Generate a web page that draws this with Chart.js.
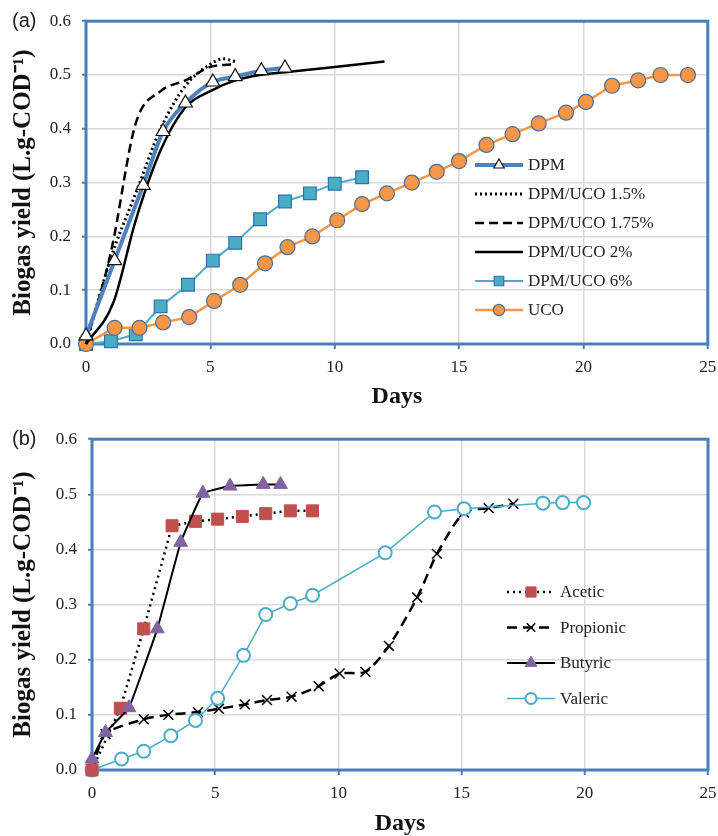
<!DOCTYPE html>
<html>
<head>
<meta charset="utf-8">
<style>
  body { margin: 0; background: #fff; }
  .panel { position: absolute; left: 0; width: 718px; height: 418px; }
</style>
</head>
<body>
<div class="panel" style="top:0"><canvas id="chartA" width="718" height="418"></canvas></div>
<div class="panel" style="top:418px"><canvas id="chartB" width="718" height="418"></canvas></div>

<script src="https://cdn.jsdelivr.net/npm/chart.js"></script>
<script>
// ---- panel (a) data: biogas yield vs days ----
let dpmDays = [0, 1.15, 2.3, 3.1, 4.0, 5.1, 6.0, 7.05, 8.0];
let dpmYield = [0.015, 0.155, 0.295, 0.395, 0.448, 0.487, 0.497, 0.508, 0.513];

let uco15Days = [0, 1, 2, 3, 4, 5, 5.5, 6];
let uco15Yield = [0, 0.16, 0.28, 0.40, 0.48, 0.52, 0.53, 0.525];

let uco175Days = [0, 1, 2, 3, 4, 5, 6];
let uco175Yield = [0, 0.17, 0.41, 0.47, 0.49, 0.515, 0.52];

let uco2Days = [0, 1.1, 2, 3, 4, 5, 6, 7, 8, 10, 12];
let uco2Yield = [0, 0.077, 0.23, 0.36, 0.44, 0.47, 0.49, 0.50, 0.505, 0.515, 0.525];

let uco6Days = [0, 1, 2, 3, 4.1, 5.1, 6, 7, 8, 9, 10, 11.1];
let uco6Yield = [0, 0.005, 0.018, 0.07, 0.11, 0.155, 0.188, 0.232, 0.265, 0.28, 0.298, 0.31];

let ucoDays = [0, 1.15, 2.15, 3.1, 4.15, 5.15, 6.2, 7.2, 8.1, 9.1, 10.1, 11.1, 12.1, 13.1, 14.1, 15, 16.1, 17.15, 18.2, 19.3, 20.1, 21.15, 22.2, 23.1, 24.2];
let ucoYield = [0, 0.03, 0.03, 0.04, 0.05, 0.08, 0.11, 0.15, 0.18, 0.20, 0.23, 0.26, 0.28, 0.30, 0.32, 0.34, 0.37, 0.39, 0.41, 0.43, 0.45, 0.48, 0.49, 0.50, 0.50];

// ---- panel (b) data ----
let aceticDays = [0, 1.15, 2.1, 3.25, 4.2, 5.1, 6.1, 7.05, 8.05, 8.95];
let aceticYield = [0, 0.112, 0.256, 0.443, 0.451, 0.455, 0.46, 0.465, 0.47, 0.47];

let propionicDays = [0, 0.55, 2.1, 3.1, 4.3, 5.15, 6.2, 7.1, 8.1, 9.2, 10.05, 11.1, 12.05, 13.2, 14.0, 15.1, 16.1, 17.1];
let propionicYield = [0, 0.065, 0.092, 0.1, 0.105, 0.111, 0.119, 0.127, 0.133, 0.152, 0.175, 0.178, 0.225, 0.313, 0.392, 0.467, 0.475, 0.483];

let butyricDays = [0, 0.55, 1.5, 2.65, 3.6, 4.5, 5.6, 6.95, 7.65];
let butyricYield = [0.02, 0.068, 0.113, 0.256, 0.413, 0.502, 0.515, 0.518, 0.518];

let valericDays = [0, 1.2, 2.1, 3.2, 4.2, 5.1, 6.15, 7.05, 8.05, 8.95, 11.9, 13.9, 15.1, 18.3, 19.1, 19.95];
let valericYield = [0, 0.02, 0.034, 0.062, 0.09, 0.13, 0.208, 0.282, 0.302, 0.317, 0.394, 0.468, 0.474, 0.484, 0.485, 0.485];

let xTicks = [0, 5, 10, 15, 20, 25];
let yTicks = [0, 0.1, 0.2, 0.3, 0.4, 0.5, 0.6];

function pts(xs, ys) {
  return xs.map((x, i) => ({ x: x, y: ys[i] }));
}

const serif = 'Liberation Serif';
const blueFrame = '#4a7ebb';

// frame round the plot area, panel letter and the legend inside the plot
const framePlugin = {
  id: 'frame',
  beforeDatasetsDraw(chart) {
    const a = chart.chartArea, ctx = chart.ctx;
    ctx.save();
    ctx.strokeStyle = blueFrame;
    ctx.lineWidth = 3;
    ctx.strokeRect(a.left, a.top, a.right - a.left, a.bottom - a.top);
    ctx.restore();
  },
  afterDraw(chart, args, opts) {
    const ctx = chart.ctx, a = chart.chartArea;
    ctx.save();
    ctx.fillStyle = '#222';
    ctx.font = '20px "Liberation Sans"';
    ctx.textBaseline = 'middle';
    ctx.fillText(opts.label, 12, a.top);

    // legend
    let y = opts.legendY;
    chart.data.datasets.forEach(ds => {
      const x = opts.legendX;
      ctx.save();
      ctx.strokeStyle = ds.borderColor;
      ctx.lineWidth = ds.borderWidth;
      ctx.setLineDash(ds.borderDash || []);
      ctx.beginPath();
      ctx.moveTo(x, y);
      ctx.lineTo(x + 48, y);
      ctx.stroke();
      ctx.setLineDash([]);
      if (ds.pointRadius > 0) {
        ctx.fillStyle = ds.pointBackgroundColor;
        ctx.strokeStyle = ds.pointBorderColor;
        ctx.lineWidth = ds.pointBorderWidth;
        Chart.helpers.drawPoint(ctx, {
          pointStyle: ds.pointStyle,
          radius: ds.pointRadius * opts.markScale,
          rotation: 0,
          borderWidth: ds.pointBorderWidth
        }, x + 24, y);
      }
      ctx.restore();
      ctx.fillStyle = '#222';
      ctx.font = '17px "' + serif + '"';
      ctx.textBaseline = 'middle';
      ctx.fillText(ds.label, x + 53, y + 1);
      y += opts.legendRow;
    });
    ctx.restore();
  }
};

function makeScales(yWidth, xHeight, titlePad) {
  return {
    x: {
      type: 'linear',
      min: 0, max: 25,
      afterBuildTicks: s => { s.ticks = xTicks.map(v => ({ value: v })); },
      afterFit: s => { s.height = xHeight; s.paddingRight = 10; },
      grid: { color: '#d9d9d9', lineWidth: 1.5, tickColor: blueFrame, tickLength: 5, tickWidth: 2 },
      border: { display: false },
      ticks: { color: '#222', padding: 8, font: { family: serif, size: 17 } },
      title: {
        display: true, text: 'Days', color: '#111',
        font: { family: serif, size: 24, weight: 'bold', lineHeight: 1 },
        padding: { top: 0, bottom: titlePad }
      }
    },
    y: {
      min: 0, max: 0.6,
      afterBuildTicks: s => { s.ticks = yTicks.map(v => ({ value: v })); },
      afterFit: s => { s.width = yWidth; },
      grid: { color: '#d9d9d9', lineWidth: 1.5, tickColor: blueFrame, tickLength: 4, tickWidth: 2 },
      border: { display: false },
      ticks: { color: '#222', padding: 11, font: { family: serif, size: 17 }, callback: v => v.toFixed(1) },
      title: {
        display: true, text: 'Biogas yield (L.g-COD\u207B\u00B9)', color: '#111',
        font: { family: serif, size: 25, weight: 'bold', lineHeight: 1.2 },
        padding: { top: 9, bottom: 0 }
      }
    }
  };
}

function baseOptions(yWidth, xHeight, titlePad, top, plugOpts) {
  return {
    responsive: false,
    animation: false,
    layout: { padding: { top: top, right: 1, left: 0, bottom: 0 } },
    scales: makeScales(yWidth, xHeight, titlePad),
    plugins: { legend: { display: false }, tooltip: { enabled: false }, frame: plugOpts }
  };
}

// ---- chart (a) ----
let dataA = {
  datasets: [
    { label: 'DPM', data: pts(dpmDays, dpmYield), borderColor: '#4f81bd', borderWidth: 4,
      pointStyle: 'triangle', pointRadius: 8, pointBackgroundColor: '#fff', pointBorderColor: '#111',
      pointBorderWidth: 1.2, cubicInterpolationMode: 'monotone', order: 0 },
    { label: 'DPM/UCO 1.5%', data: pts(uco15Days, uco15Yield), borderColor: '#000', borderWidth: 3,
      borderDash: [2, 3], pointRadius: 0, cubicInterpolationMode: 'monotone', order: 1 },
    { label: 'DPM/UCO 1.75%', data: pts(uco175Days, uco175Yield), borderColor: '#000', borderWidth: 2.5,
      borderDash: [9, 5], pointRadius: 0, cubicInterpolationMode: 'monotone', order: 2 },
    { label: 'DPM/UCO 2%', data: pts(uco2Days, uco2Yield), borderColor: '#000', borderWidth: 2.5,
      pointRadius: 0, cubicInterpolationMode: 'monotone', order: 3 },
    { label: 'DPM/UCO 6%', data: pts(uco6Days, uco6Yield), borderColor: '#4bacc6', borderWidth: 2,
      pointStyle: 'rect', pointRadius: 9, pointBackgroundColor: '#4bacc6', pointBorderColor: '#2f72a8',
      pointBorderWidth: 1.2, order: 5 },
    { label: 'UCO', data: pts(ucoDays, ucoYield), borderColor: '#f79646', borderWidth: 2.5,
      pointStyle: 'circle', pointRadius: 7.5, pointBackgroundColor: '#f79646', pointBorderColor: '#4a6f9c',
      pointBorderWidth: 1.2, order: 4 }
  ]
};
dataA.datasets.forEach(d => { d.showLine = true; d.clip = false; });

new Chart(document.getElementById('chartA'), {
  type: 'scatter',
  data: dataA,
  options: baseOptions(86, 74, 9, 15, { label: '(a)', legendX: 475, legendY: 165, legendRow: 29, markScale: 0.75 }),
  plugins: [framePlugin]
});

// ---- chart (b) ----
let dataB = {
  datasets: [
    { label: 'Acetic', data: pts(aceticDays, aceticYield), borderColor: '#000', borderWidth: 2.5,
      borderDash: [2, 4], pointStyle: 'rect', pointRadius: 8.5, pointBackgroundColor: '#c0504d',
      pointBorderColor: '#c0504d', pointBorderWidth: 1, order: 1 },
    { label: 'Propionic', data: pts(propionicDays, propionicYield), borderColor: '#000', borderWidth: 2.5,
      borderDash: [10, 6], pointStyle: 'crossRot', pointRadius: 7, pointBackgroundColor: '#000',
      pointBorderColor: '#000', pointBorderWidth: 1.5, tension: 0.25, order: 3 },
    { label: 'Butyric', data: pts(butyricDays, butyricYield), borderColor: '#000', borderWidth: 2,
      pointStyle: 'triangle', pointRadius: 8, pointBackgroundColor: '#8064a2', pointBorderColor: '#8064a2',
      pointBorderWidth: 1, tension: 0.08, order: 0 },
    { label: 'Valeric', data: pts(valericDays, valericYield), borderColor: '#4bacc6', borderWidth: 1.5,
      pointStyle: 'circle', pointRadius: 6.5, pointBackgroundColor: '#fff', pointBorderColor: '#4bacc6',
      pointBorderWidth: 2, order: 2 }
  ]
};
dataB.datasets.forEach(d => { d.showLine = true; d.clip = false; });

new Chart(document.getElementById('chartB'), {
  type: 'scatter',
  data: dataB,
  options: baseOptions(92, 66, 0, 17, { label: '(b)', legendX: 507, legendY: 174, legendRow: 35.5, markScale: 0.85 }),
  plugins: [framePlugin]
});
</script>
</body>
</html>
